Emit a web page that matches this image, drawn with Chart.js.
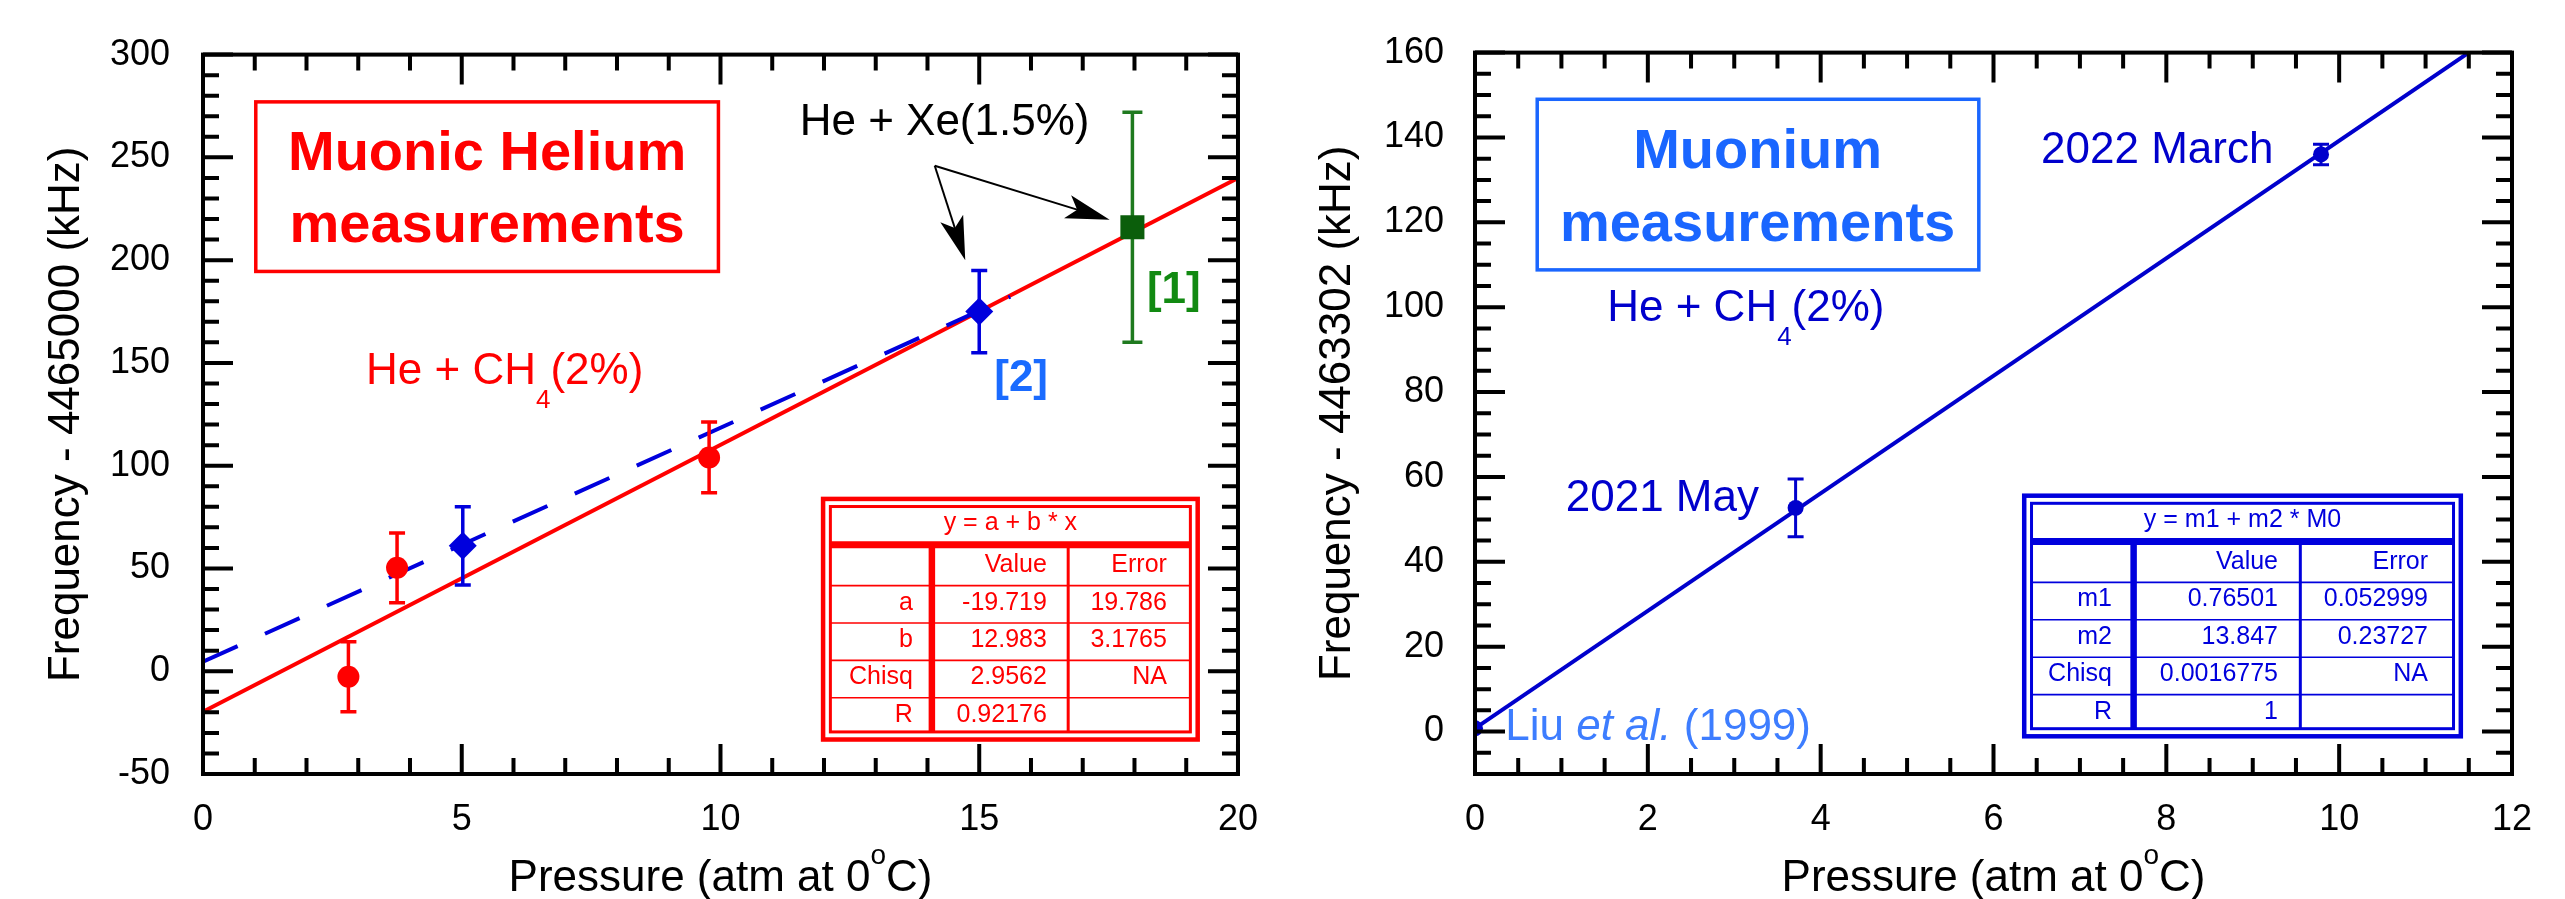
<!DOCTYPE html>
<html>
<head>
<meta charset="utf-8">
<script src="https://cdn.jsdelivr.net/npm/chart.js@4/dist/chart.umd.min.js"></script>
<style>
  html, body { margin: 0; padding: 0; background: #fff; }
  body { width: 2565px; height: 899px; position: relative; overflow: hidden; }
  .wrap { position: absolute; top: 0; }
</style>
</head>
<body>
<div class="wrap" style="left:0"><canvas id="heChart" width="1282" height="899"></canvas></div>
<div class="wrap" style="left:1282px"><canvas id="muChart" width="1283" height="899"></canvas></div>
<script>
const FONT = "'Liberation Sans', Arial, Helvetica, sans-serif";

// --- muonic helium (left) ---
const heCh4X = [2.81, 3.75, 9.78];
const heCh4Y = [-2.7, 50.3, 104.0];
const heCh4Err = [17.0, 17.0, 17.2];
const heXeX = [5.02, 15.0];
const heXeY = [61.0, 175.0];
const heXeErr = [19.0, 20.0];
const refX = [17.96];
const refY = [216.0];
const refErr = [56.0];
const heFitX = [0, 20];
const heFitY = [-19.7, 239.9];
const heXeLineX = [0, 15.6];
const heXeLineY = [4.6, 182.2];
const heTicksX = [0, 5, 10, 15, 20];
const heTicksY = [-50, 0, 50, 100, 150, 200, 250, 300];
const heFitRows = [
  ["a", "-19.719", "19.786"],
  ["b", "12.983", "3.1765"],
  ["Chisq", "2.9562", "NA"],
  ["R", "0.92176", ""]
];

// --- muonium (right) ---
const muX = [0, 3.71, 9.79];
const muY = [0.77, 52.7, 136.0];
const muErr = [0, 6.8, 2.4];
const muFitX = [0, 11.5];
const muFitY = [0.77, 160.0];
const muTicksX = [0, 2, 4, 6, 8, 10, 12];
const muTicksY = [0, 20, 40, 60, 80, 100, 120, 140, 160];
const muFitRows = [
  ["m1", "0.76501", "0.052999"],
  ["m2", "13.847", "0.23727"],
  ["Chisq", "0.0016775", "NA"],
  ["R", "1", ""]
];

const pts = (xs, ys) => xs.map((x, i) => ({ x: x, y: ys[i] }));

function fontOf(r) {
  return `${r.style || ''} ${r.weight || 'normal'} ${r.size || 44}px ${FONT}`;
}

// draw a row of text pieces (for sub/superscripts)
function drawRuns(ctx, runs, x, y, align, color) {
  let total = 0;
  runs.forEach(r => { ctx.font = fontOf(r); r.w = ctx.measureText(r.t).width; total += r.w; });
  let cx = align === 'center' ? x - total / 2 : align === 'right' ? x - total : x;
  ctx.textAlign = 'left';
  ctx.textBaseline = 'alphabetic';
  runs.forEach(r => {
    ctx.font = fontOf(r);
    ctx.fillStyle = r.color || color;
    ctx.fillText(r.t, cx, y + (r.dy || 0));
    cx += r.w;
  });
}

function drawArrow(ctx, x1, y1, x2, y2) {
  const ang = Math.atan2(y2 - y1, x2 - x1);
  const len = 44, half = 12, notch = 10;
  const bx = x2 - Math.cos(ang) * (len - notch), by = y2 - Math.sin(ang) * (len - notch);
  ctx.beginPath();
  ctx.moveTo(x1, y1);
  ctx.lineTo(bx, by);
  ctx.stroke();
  const cx = x2 - Math.cos(ang) * len, cy = y2 - Math.sin(ang) * len;
  const nx = -Math.sin(ang), ny = Math.cos(ang);
  ctx.beginPath();
  ctx.moveTo(x2, y2);
  ctx.lineTo(cx + nx * half, cy + ny * half);
  ctx.lineTo(bx, by);
  ctx.lineTo(cx - nx * half, cy - ny * half);
  ctx.closePath();
  ctx.fill();
}

function drawTable(ctx, x0, y0, t) {
  const W = t.w, H = 245;
  ctx.save();
  ctx.fillStyle = '#fff';
  ctx.fillRect(x0, y0, W, H);
  ctx.strokeStyle = t.color;
  ctx.lineWidth = 4.5;
  ctx.strokeRect(x0 + 2.2, y0 + 2.2, W - 4.4, H - 4.4);
  ctx.lineWidth = 3;
  ctx.strokeRect(x0 + 9.5, y0 + 9.8, W - 19, H - 19.6);
  const inL = x0 + 9.5, inR = x0 + W - 9.5, inB = y0 + H - 9.8;
  // thick line under the title
  ctx.lineWidth = 7;
  ctx.beginPath(); ctx.moveTo(inL, y0 + 48); ctx.lineTo(inR, y0 + 48); ctx.stroke();
  // thick + thin column rules
  ctx.lineWidth = 6.5;
  ctx.beginPath(); ctx.moveTo(x0 + t.col1, y0 + 51); ctx.lineTo(x0 + t.col1, inB); ctx.stroke();
  ctx.lineWidth = 3;
  ctx.beginPath(); ctx.moveTo(x0 + t.col2, y0 + 51); ctx.lineTo(x0 + t.col2, inB); ctx.stroke();
  // row rules
  const rowTop = y0 + 51.5, rowH = 37.4;
  ctx.lineWidth = 1.6;
  for (let i = 1; i <= 4; i++) {
    const yy = rowTop + i * rowH;
    ctx.beginPath(); ctx.moveTo(inL, yy); ctx.lineTo(inR, yy); ctx.stroke();
  }
  ctx.fillStyle = t.color;
  ctx.font = `25px ${FONT}`;
  ctx.textBaseline = 'alphabetic';
  ctx.textAlign = 'center';
  ctx.fillText(t.title, (inL + inR) / 2, y0 + 33);
  ctx.textAlign = 'right';
  const rows = [["", "Value", "Error"]].concat(t.rows);
  rows.forEach((row, i) => {
    const yy = rowTop + i * rowH + 24;
    row.forEach((cell, j) => ctx.fillText(cell, x0 + t.rights[j], yy));
  });
  ctx.restore();
}

function makeDecor(cfg) {
  return {
    id: 'decor',
    beforeDatasetDraw(chart, args) {
      const ds = chart.data.datasets[args.index];
      if (!ds.errors) return;
      const { ctx, scales } = chart;
      ctx.save();
      ctx.strokeStyle = ds.errColor;
      ctx.lineWidth = ds.errWidth;
      ds.data.forEach((p, i) => {
        const e = ds.errors[i];
        if (!e) return;
        const x = scales.x.getPixelForValue(p.x);
        const yT = scales.y.getPixelForValue(p.y + e);
        const yB = scales.y.getPixelForValue(p.y - e);
        ctx.beginPath();
        ctx.moveTo(x, yT); ctx.lineTo(x, yB);
        ctx.moveTo(x - ds.capHalf, yT); ctx.lineTo(x + ds.capHalf, yT);
        ctx.moveTo(x - ds.capHalf, yB); ctx.lineTo(x + ds.capHalf, yB);
        ctx.stroke();
      });
      ctx.restore();
    },
    afterDatasetsDraw(chart) {
      const { ctx, chartArea: a, scales } = chart;
      ctx.save();
      ctx.strokeStyle = '#000';
      ctx.lineWidth = 4;
      const isMajor = (v, m) => Math.abs(v / m - Math.round(v / m)) < 1e-6;
      for (let v = scales.x.min; v <= scales.x.max + 1e-9; v += cfg.xMinor) {
        const len = isMajor(v, cfg.xMajor) ? 30 : 16;
        const p = scales.x.getPixelForValue(v);
        ctx.beginPath();
        ctx.moveTo(p, a.bottom); ctx.lineTo(p, a.bottom - len);
        ctx.moveTo(p, a.top); ctx.lineTo(p, a.top + len);
        ctx.stroke();
      }
      for (let v = scales.y.min; v <= scales.y.max + 1e-9; v += cfg.yMinor) {
        const len = isMajor(v, cfg.yMajor) ? 30 : 16;
        const p = scales.y.getPixelForValue(v);
        ctx.beginPath();
        ctx.moveTo(a.left, p); ctx.lineTo(a.left + len, p);
        ctx.moveTo(a.right, p); ctx.lineTo(a.right - len, p);
        ctx.stroke();
      }
      ctx.strokeRect(a.left, a.top, a.right - a.left, a.bottom - a.top);
      ctx.restore();
    },
    afterDraw(chart) {
      const { ctx, chartArea: a, scales } = chart;
      const sx = v => scales.x.getPixelForValue(v);
      const sy = v => scales.y.getPixelForValue(v);
      ctx.save();
      // axis titles
      drawRuns(ctx, [{ t: 'Pressure (atm at 0' }, { t: 'o', size: 28, dy: -27 }, { t: 'C)' }],
        (a.left + a.right) / 2, 891, 'center', '#000');
      ctx.save();
      ctx.translate(cfg.yTitleX, (a.top + a.bottom) / 2);
      ctx.rotate(-Math.PI / 2);
      ctx.font = `44px ${FONT}`;
      ctx.fillStyle = '#000';
      ctx.textAlign = 'center';
      ctx.textBaseline = 'alphabetic';
      ctx.fillText(cfg.yTitle, 0, 0);
      ctx.restore();
      // boxed headings
      cfg.boxes.forEach(b => {
        ctx.strokeStyle = b.color;
        ctx.lineWidth = 3.5;
        ctx.strokeRect(sx(b.x1), sy(b.y1), sx(b.x2) - sx(b.x1), sy(b.y2) - sy(b.y1));
      });
      cfg.texts.forEach(t => drawRuns(ctx, t.runs, sx(t.x), sy(t.y), t.align, t.color));
      ctx.strokeStyle = '#000';
      ctx.fillStyle = '#000';
      ctx.lineWidth = 2;
      cfg.arrows.forEach(r => drawArrow(ctx, sx(r[0]), sy(r[1]), sx(r[2]), sy(r[3])));
      drawTable(ctx, sx(cfg.table.x), sy(cfg.table.y), cfg.table);
      ctx.restore();
    }
  };
}

function makeOptions(xTicks, yTicks, xMin, xMax, yMin, yMax, padRight, yWidth, yLabelPad) {
  const tickFont = { family: FONT, size: 36 };
  return {
    responsive: false,
    animation: false,
    devicePixelRatio: 1,
    layout: { padding: { left: 0, top: 33, right: padRight, bottom: 0 } },
    plugins: { legend: { display: false }, tooltip: { enabled: false } },
    scales: {
      x: {
        type: 'linear', min: xMin, max: xMax,
        afterBuildTicks: s => { s.ticks = xTicks.map(v => ({ value: v })); },
        afterFit: s => { s.height = 125; },
        grid: { display: false, drawTicks: false },
        border: { display: false },
        ticks: { color: '#000', font: tickFont, padding: 24, maxRotation: 0, autoSkip: false }
      },
      y: {
        type: 'linear', min: yMin, max: yMax,
        afterBuildTicks: s => { s.ticks = yTicks.map(v => ({ value: v })); },
        afterFit: s => { s.width = yWidth; },
        grid: { display: false, drawTicks: false },
        border: { display: false },
        ticks: { color: '#000', font: tickFont, padding: yLabelPad, autoSkip: false }
      }
    }
  };
}

const heDecor = {
  xMajor: 5, xMinor: 1, yMajor: 50, yMinor: 10,
  yTitle: 'Frequency - 4465000 (kHz)', yTitleX: 79,
  boxes: [{ x1: 1.02, y1: 277.0, x2: 9.96, y2: 194.5, color: '#ff0000' }],
  texts: [
    { x: 5.49, y: 244.0, align: 'center', color: '#ff0000', runs: [{ t: 'Muonic Helium', size: 56, weight: 'bold' }] },
    { x: 5.49, y: 208.8, align: 'center', color: '#ff0000', runs: [{ t: 'measurements', size: 56, weight: 'bold' }] },
    { x: 3.15, y: 139.9, align: 'left', color: '#ff0000', runs: [{ t: 'He + CH' }, { t: '4', size: 26, dy: 24 }, { t: '(2%)' }] },
    { x: 11.53, y: 260.8, align: 'left', color: '#000', runs: [{ t: 'He + Xe(1.5%)' }] },
    { x: 18.24, y: 179.0, align: 'left', color: '#128a12', runs: [{ t: '[1]', weight: 'bold' }] },
    { x: 15.29, y: 136.1, align: 'left', color: '#1a6bff', runs: [{ t: '[2]', weight: 'bold' }] }
  ],
  arrows: [[14.14, 245.9, 14.73, 199.9], [14.14, 245.9, 17.52, 219.7]],
  table: { x: 11.94, y: 84.9, w: 379, col1: 111, col2: 247.3, rights: [92, 226, 346],
           color: '#ff0000', title: 'y = a + b * x', rows: heFitRows }
};

const muDecor = {
  xMajor: 2, xMinor: 0.5, yMajor: 20, yMinor: 5,
  yTitle: 'Frequency - 4463302 (kHz)', yTitleX: 68,
  boxes: [{ x1: 0.72, y1: 149.0, x2: 5.83, y2: 108.8, color: '#1a66ff' }],
  texts: [
    { x: 3.27, y: 132.8, align: 'center', color: '#1a66ff', runs: [{ t: 'Muonium', size: 56, weight: 'bold' }] },
    { x: 3.27, y: 115.7, align: 'center', color: '#1a66ff', runs: [{ t: 'measurements', size: 56, weight: 'bold' }] },
    { x: 1.53, y: 96.7, align: 'left', color: '#0000cc', runs: [{ t: 'He + CH' }, { t: '4', size: 26, dy: 24 }, { t: '(2%)' }] },
    { x: 1.05, y: 52.0, align: 'left', color: '#0000cc', runs: [{ t: '2021 May' }] },
    { x: 6.55, y: 134.1, align: 'left', color: '#0000cc', runs: [{ t: '2022 March' }] },
    { x: 0.35, y: -1.9, align: 'left', color: '#3d7dff', runs: [{ t: 'Liu ' }, { t: 'et al.', style: 'italic' }, { t: ' (1999)' }] }
  ],
  arrows: [],
  table: { x: 6.33, y: 56.1, w: 441, col1: 111.6, col2: 278.3, rights: [90, 256, 406],
           color: '#0000dd', title: 'y = m1 + m2 * M0', rows: muFitRows }
};

new Chart(document.getElementById('heChart'), {
  type: 'scatter',
  data: {
    datasets: [
      { label: 'He + CH4', data: pts(heCh4X, heCh4Y), errors: heCh4Err, errColor: '#ff0000', errWidth: 3.5, capHalf: 8,
        pointStyle: 'circle', pointRadius: 11, pointBackgroundColor: '#ff0000', pointBorderWidth: 0, order: 0 },
      { label: 'He + Xe', data: pts(heXeX, heXeY), errors: heXeErr, errColor: '#0000dd', errWidth: 3.5, capHalf: 8,
        pointStyle: 'rectRot', pointRadius: 14, pointBackgroundColor: '#0000dd', pointBorderWidth: 0, order: 0 },
      { label: '[1]', data: pts(refX, refY), errors: refErr, errColor: '#1f7a1f', errWidth: 3.5, capHalf: 10,
        pointStyle: 'rect', pointRadius: 17, pointBackgroundColor: '#0b5e0b', pointBorderWidth: 0, order: 0 },
      { label: 'fit', data: pts(heFitX, heFitY), showLine: true, borderColor: '#ff0000', borderWidth: 4,
        pointRadius: 0, order: 2 },
      { label: 'He + Xe line', data: pts(heXeLineX, heXeLineY), showLine: true, borderColor: '#0000dd', borderWidth: 4,
        borderDash: [38, 30], pointRadius: 0, order: 1 }
    ]
  },
  options: makeOptions(heTicksX, heTicksY, 0, 20, -50, 300, 43, 203, 33),
  plugins: [makeDecor(heDecor)]
});

new Chart(document.getElementById('muChart'), {
  type: 'scatter',
  data: {
    datasets: [
      { label: 'Muonium', data: pts(muX, muY), errors: muErr, errColor: '#0000cc', errWidth: 3, capHalf: 8,
        pointStyle: 'circle', pointRadius: 8, pointBackgroundColor: '#0000cc', pointBorderWidth: 0, order: 0 },
      { label: 'fit', data: pts(muFitX, muFitY), showLine: true, borderColor: '#0000cc', borderWidth: 4,
        pointRadius: 0, order: 1 }
    ]
  },
  options: makeOptions(muTicksX, muTicksY, 0, 12, -10, 160, 53, 193, 31),
  plugins: [makeDecor(muDecor)]
});
</script>
</body>
</html>
